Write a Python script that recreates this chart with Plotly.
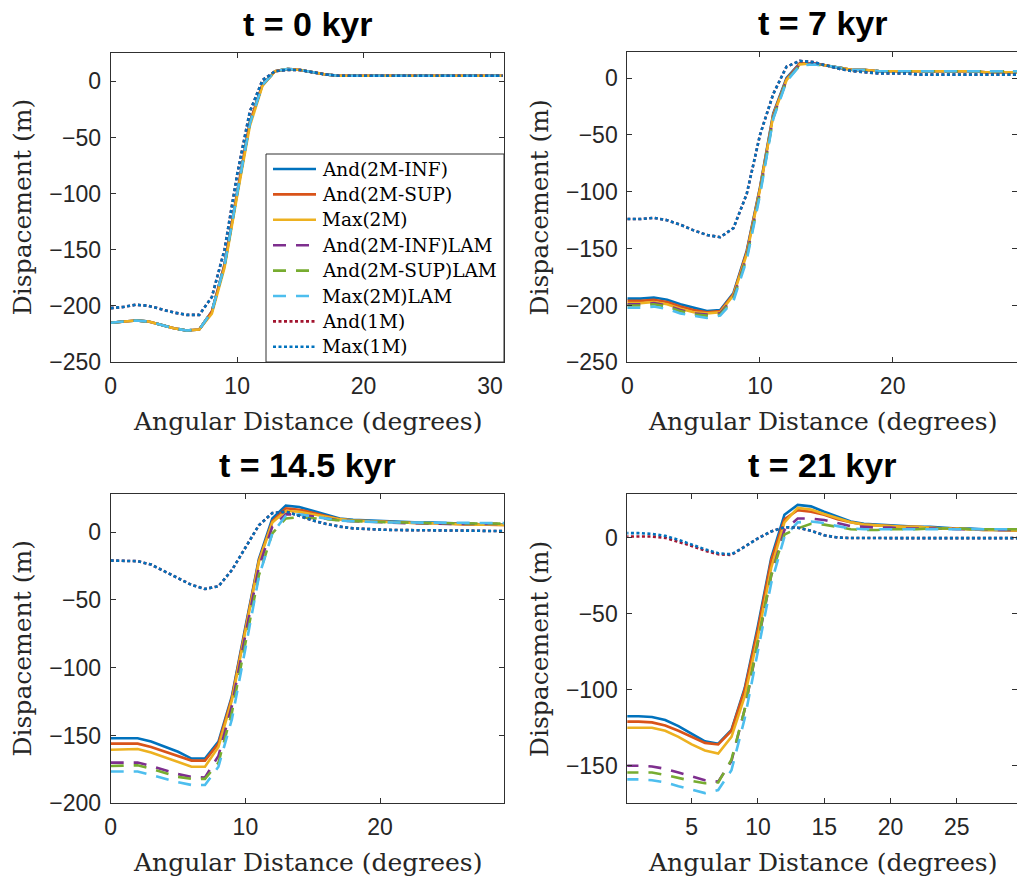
import plotly.graph_objects as go

# Angular distance from the ice-sheet centre (degrees), sampled every degree
angular_distance = list(range(0, 32))

series_names = [
    "And(2M-INF)", "And(2M-SUP)", "Max(2M)",
    "And(2M-INF)LAM", "And(2M-SUP)LAM", "Max(2M)LAM",
    "And(1M)", "Max(1M)",
]
panel_titles = ["t = 0 kyr", "t = 7 kyr", "t = 14.5 kyr", "t = 21 kyr"]

# ---- t = 0 kyr ----
t0_and2m_inf = [-215, -214, -213, -214, -217, -220, -222, -221, -205, -163, -99, -37, -3, 9, 11, 10, 8, 6, 5, 5, 5, 5, 5, 5, 5, 5, 5, 5, 5, 5, 5, 5]
t0_and2m_sup = [-215, -214, -213, -214, -217, -220, -222, -221, -205, -164, -100, -37, -3, 9, 11, 10, 8, 6, 5, 5, 5, 5, 5, 5, 5, 5, 5, 5, 5, 5, 5, 5]
t0_max2m = [-215, -214, -213, -214, -217, -220, -222, -221, -207, -166, -102, -40, -4, 9, 11, 10, 8, 6, 5, 5, 5, 5, 5, 5, 5, 5, 5, 5, 5, 5, 5, 5]
t0_and2m_inf_lam = [-215, -214, -213, -214, -217, -220, -222, -221, -205, -163, -99, -37, -3, 9, 11, 10, 8, 6, 5, 5, 5, 5, 5, 5, 5, 5, 5, 5, 5, 5, 5, 5]
t0_and2m_sup_lam = [-215, -214, -213, -214, -217, -220, -222, -221, -205, -164, -100, -37, -3, 9, 11, 10, 8, 6, 5, 5, 5, 5, 5, 5, 5, 5, 5, 5, 5, 5, 5, 5]
t0_max2m_lam = [-215, -214, -213, -214, -217, -220, -222, -221, -205, -164, -100, -38, -3, 9, 11, 10, 8, 6, 5, 5, 5, 5, 5, 5, 5, 5, 5, 5, 5, 5, 5, 5]
t0_and1m = [-202, -201, -199, -200, -203, -206, -208, -208, -192, -150, -83, -27, 1, 9, 10, 10, 8, 6, 5, 5, 5, 5, 5, 5, 5, 5, 5, 5, 5, 5, 5, 5]
t0_max1m = [-202, -201, -199, -200, -203, -206, -208, -208, -192, -150, -83, -27, 1, 9, 10, 10, 8, 6, 5, 5, 5, 5, 5, 5, 5, 5, 5, 5, 5, 5, 5, 5]

# ---- t = 7 kyr ----
t7_and2m_inf = [-194, -194, -193, -195, -199, -202, -205, -204, -189, -152, -96, -31, 0, 13, 13, 11, 9, 7, 7, 6, 6, 6, 6, 6, 6, 6, 6, 5, 5, 5, 5, 5]
t7_and2m_sup = [-196, -196, -195, -197, -201, -204, -206, -205, -190, -153, -97, -32, -1, 13, 13, 11, 9, 7, 7, 6, 6, 6, 6, 6, 6, 6, 6, 5, 5, 5, 5, 5]
t7_max2m = [-198, -198, -197, -199, -203, -206, -207, -206, -191, -155, -98, -33, -2, 12, 13, 11, 9, 7, 7, 6, 6, 6, 6, 6, 6, 6, 6, 5, 5, 5, 5, 5]
t7_and2m_inf_lam = [-199, -199, -198, -200, -204, -207, -208, -207, -193, -157, -100, -34, -2, 12, 13, 11, 9, 7, 7, 6, 6, 6, 6, 6, 6, 6, 6, 6, 6, 6, 6, 6]
t7_and2m_sup_lam = [-200, -200, -199, -201, -205, -208, -209, -208, -194, -158, -101, -35, -2, 11, 12, 11, 9, 7, 7, 6, 6, 6, 6, 6, 6, 6, 6, 6, 6, 6, 6, 6]
t7_max2m_lam = [-202, -202, -201, -203, -207, -209, -211, -209, -196, -160, -103, -36, -3, 11, 12, 11, 9, 7, 7, 6, 6, 6, 6, 6, 6, 6, 6, 6, 6, 6, 6, 6]
t7_and1m = [-124, -124, -123, -125, -129, -134, -138, -140, -132, -102, -50, -14, 10, 15, 14, 11, 8, 6, 5, 4, 4, 4, 3, 3, 3, 3, 3, 3, 3, 3, 3, 3]
t7_max1m = [-124, -124, -123, -125, -129, -134, -138, -140, -132, -102, -50, -14, 10, 15, 14, 11, 8, 6, 5, 4, 4, 4, 3, 3, 3, 3, 3, 3, 3, 3, 3, 3]

# ---- t = 14.5 kyr ----
t145_and2m_inf = [-152, -152, -152, -154.5, -158, -162, -167, -167, -154.5, -121, -70, -20, 10, 19.5, 18.5, 15.5, 12.5, 10, 9, 8.5, 8, 7.5, 7.5, 7, 7, 6.5, 6, 6, 5.5, 5.5, 5, 5]
t145_and2m_sup = [-156, -156, -156, -158.5, -162, -165.5, -168.5, -168.5, -156, -122, -71, -21, 8, 17.5, 16.5, 14, 11.5, 9.5, 8.5, 8, 7.5, 7, 7, 6.5, 6.5, 6, 6, 5.5, 5.5, 5, 5, 5]
t145_max2m = [-160.5, -160.5, -160, -162.5, -166, -170, -173, -173, -158.5, -124, -73, -22, 7, 15.5, 15, 13, 11, 9.5, 8.5, 8, 7.5, 7, 7, 6.5, 6.5, 6, 6, 5.5, 5.5, 5, 5, 5]
t145_and2m_inf_lam = [-170, -170, -170, -172.5, -175.5, -178.5, -180.5, -181, -165, -128, -76, -26, 4, 13, 13, 11.5, 10, 8.5, 8, 7.5, 7, 7, 6.5, 6.5, 6, 6, 6, 6, 6, 6, 6, 6]
t145_and2m_sup_lam = [-172.5, -172.5, -172, -174.5, -177.5, -180.5, -182, -182, -170, -133, -82, -32, -1, 10, 11, 10.5, 9.5, 8.5, 8, 7.5, 7, 7, 7, 6.5, 6.5, 6.5, 6.5, 6, 6, 6, 6, 6]
t145_max2m_lam = [-176.5, -176.5, -176.5, -179, -182, -184.5, -186.5, -186.5, -173, -138, -86, -33, -1, 12, 13, 11.5, 10, 8.5, 8, 7.5, 7, 7, 7, 7, 7, 6.5, 6.5, 6.5, 6.5, 6.5, 6.5, 6.5]
t145_and1m = [-21, -21, -21.5, -24, -29, -34, -39, -42, -40, -28, -11, 5, 14, 15, 12, 8.5, 6, 4, 2.7, 2, 1.8, 1.5, 1.5, 1.3, 1.2, 1, 1, 1, 0.8, 0.7, 0.7, 0.7]
t145_max1m = [-21, -21, -21.5, -24, -29, -34, -39, -42, -40, -28, -11, 5, 14, 15, 12, 8.5, 6, 4, 2.7, 2, 1.8, 1.5, 1.5, 1.3, 1.2, 1, 1, 1, 0.8, 0.7, 0.7, 0.7]

# ---- t = 21 kyr ----
t21_and2m_inf = [-117.5, -117.5, -118, -120, -124, -129, -134, -135.5, -126.5, -99, -58, -13.5, 15, 21.5, 20.5, 17, 13.5, 10.5, 9, 8.5, 8, 7.5, 7, 7, 6.5, 6, 6, 5.5, 5, 5, 4.5, 4.5]
t21_and2m_sup = [-121, -121, -121.5, -123.5, -127, -131, -135, -136, -127, -100, -60, -15, 12, 18, 17, 15, 12, 10, 8.5, 8, 7.5, 7, 7, 6.5, 6, 6, 5.5, 5, 5, 4.5, 4.5, 4.5]
t21_max2m = [-125, -125, -125, -127, -131, -136, -140, -142, -131, -104.5, -65, -20, 10, 19.5, 18.5, 15.5, 12.5, 10, 8.5, 8, 7.5, 7, 7, 6.5, 6, 6, 5.5, 5, 5, 4.5, 4.5, 4.5]
t21_and2m_inf_lam = [-150, -150, -150.5, -152, -154.5, -157, -159.5, -160.5, -147, -113, -68, -25, 5, 12.5, 12.5, 11.5, 9.5, 7.5, 7, 6.5, 6.5, 6, 6, 6, 6, 5.5, 5.5, 5.5, 5, 5, 5, 5]
t21_and2m_sup_lam = [-154.5, -154.5, -154.5, -156, -158, -160, -161.5, -161, -146, -113, -68, -25, 2, 6, 9, 8.5, 7, 5.5, 5, 5, 5.5, 5.5, 5.5, 6, 6, 6, 5.5, 5.5, 5.5, 5.5, 5.5, 5.5]
t21_max2m_lam = [-159, -159, -159.5, -161, -163.5, -166, -168, -166, -153, -119, -75, -30, 0.5, 10, 10.5, 9.5, 7.5, 6, 5.5, 5.5, 5.5, 5.5, 5.5, 5.5, 5.5, 5.5, 5.5, 5.5, 5.5, 5.5, 5.5, 5.5]
t21_and1m = [0.7, 0.7, 0.7, -0.2, -2.6, -5.5, -8.6, -11, -11.4, -6, -0.5, 4, 6.8, 6.5, 4.5, 1.5, 0, -0.3, -0.4, -0.4, -0.4, -0.4, -0.4, -0.4, -0.4, -0.4, -0.4, -0.4, -0.4, -0.4, -0.4, -0.4]
t21_max1m = [2.9, 2.9, 2.4, 1.1, -1.5, -4.8, -7.7, -10.3, -11, -6, -0.5, 4, 6.8, 6.5, 4.5, 1.5, 0, -0.3, -0.4, -0.4, -0.4, -0.4, -0.4, -0.4, -0.4, -0.4, -0.4, -0.4, -0.4, -0.4, -0.4, -0.4]

panels = [
    [t0_and2m_inf, t0_and2m_sup, t0_max2m, t0_and2m_inf_lam, t0_and2m_sup_lam, t0_max2m_lam, t0_and1m, t0_max1m],
    [t7_and2m_inf, t7_and2m_sup, t7_max2m, t7_and2m_inf_lam, t7_and2m_sup_lam, t7_max2m_lam, t7_and1m, t7_max1m],
    [t145_and2m_inf, t145_and2m_sup, t145_max2m, t145_and2m_inf_lam, t145_and2m_sup_lam, t145_max2m_lam, t145_and1m, t145_max1m],
    [t21_and2m_inf, t21_and2m_sup, t21_max2m, t21_and2m_inf_lam, t21_and2m_sup_lam, t21_max2m_lam, t21_and1m, t21_max1m],
]

# Axis limits and ticks of each panel
x_ranges = [[0, 31.1], [0, 29.37], [0, 29.2], [0.14, 29.55]]
y_ranges = [[-250, 25.2], [-250, 22.6], [-200, 27.9], [-174.7, 28.5]]
x_ticks = [[0, 10, 20, 30], [0, 10, 20], [0, 10, 20], [5, 10, 15, 20, 25]]
y_ticks = [[-250, -200, -150, -100, -50, 0], [-250, -200, -150, -100, -50, 0],
           [-200, -150, -100, -50, 0], [-150, -100, -50, 0]]

# Line styling (MATLAB default colour order)
colors = ["#0072BD", "#D95319", "#EDB120", "#7E2F8E", "#77AC30", "#4DBEEE", "#A2142F", "#0072BD"]
dashes = ["solid", "solid", "solid", "13px,10px", "13px,10px", "13px,10px", "3px,2.5px", "3px,2.5px"]

W, H = 1017, 879
x_domains = [[110.7 / W, 504 / W], [627.3 / W, 1.0], [110.7 / W, 504 / W], [627.3 / W, 1.0]]
y_domains = [[1 - 362 / H, 1 - 53 / H], [1 - 362.3 / H, 1 - 52.3 / H],
             [1 - 803.3 / H, 1 - 494.2 / H], [1 - 803.3 / H, 1 - 494.2 / H]]

AX_COLOR = "#303030"
TICK_FONT = dict(family="Liberation Sans, Arial, sans-serif", size=23, color="#262626")
LABEL_FONT = dict(family="DejaVu Serif, serif", size=25, color="#262626")
TITLE_FONT = dict(family="Liberation Sans, Arial, sans-serif", size=34, color="black")
LEGEND_FONT = dict(family="DejaVu Serif, serif", size=18.5, color="black")

fig = go.Figure()
layout = dict(
    width=W, height=H, margin=dict(l=0, r=0, t=0, b=0, autoexpand=False),
    paper_bgcolor="white", plot_bgcolor="white",
    showlegend=False,
)
annotations = []
shapes = []

for p in range(4):
    suffix = "" if p == 0 else str(p + 1)
    xa, ya = "x" + suffix, "y" + suffix
    for s, values in enumerate(panels[p]):
        fig.add_trace(go.Scatter(
            x=angular_distance, y=values, mode="lines", name=series_names[s],
            line=dict(color=colors[s], width=2.6, dash=dashes[s]),
            xaxis=xa, yaxis=ya, cliponaxis=True,
        ))
    common = dict(
        showline=True, linecolor=AX_COLOR, linewidth=1, mirror="ticks",
        ticks="inside", ticklen=5, tickwidth=1, tickcolor=AX_COLOR,
        showgrid=False, zeroline=False, tickfont=TICK_FONT, automargin=False,
    )
    layout["xaxis" + suffix] = dict(
        domain=x_domains[p], range=x_ranges[p], tickvals=x_ticks[p],
        anchor=ya, ticklabelstandoff=3, **common,
    )
    layout["yaxis" + suffix] = dict(
        domain=y_domains[p], range=y_ranges[p], tickvals=y_ticks[p],
        anchor=xa, ticklabelstandoff=4, **common,
    )
    # panel title
    annotations.append(dict(
        text="<b>" + panel_titles[p] + "</b>", xref=xa + " domain", yref=ya + " domain",
        x=0.5, y=1, yshift=29, showarrow=False, font=TITLE_FONT,
        xanchor="center", yanchor="middle",
    ))
    # axis labels
    annotations.append(dict(
        text="Angular Distance (degrees)", xref=xa + " domain", yref=ya + " domain",
        x=0.5, y=0, yshift=-59, showarrow=False, font=LABEL_FONT,
        xanchor="center", yanchor="middle",
    ))
    annotations.append(dict(
        text="Dispacement (m)", xref=xa + " domain", yref=ya + " domain",
        x=0, y=0.5, xshift=-88, showarrow=False, font=LABEL_FONT, textangle=-90,
        xanchor="center", yanchor="middle",
    ))

# Legend box in the lower-right corner of the first panel
LEG_LEFT, LEG_RIGHT, LEG_TOP, LEG_BOTTOM = 266, 504, 154, 362
ROW_STEP = 25.4
FIRST_ROW = 169


def px(x, y):
    return x / W, 1 - y / H


x0, y0 = px(LEG_LEFT, LEG_BOTTOM)
x1, y1 = px(LEG_RIGHT, LEG_TOP)
shapes.append(dict(type="rect", xref="paper", yref="paper", x0=x0, y0=y0, x1=x1, y1=y1,
                   line=dict(color=AX_COLOR, width=1), fillcolor="white", layer="above"))
for s, name in enumerate(series_names):
    row_y = FIRST_ROW + s * ROW_STEP
    lx0, ly = px(273, row_y)
    lx1, _ = px(316, row_y)
    shapes.append(dict(type="line", xref="paper", yref="paper", x0=lx0, x1=lx1, y0=ly, y1=ly,
                       line=dict(color=colors[s], width=2.6, dash=dashes[s]), layer="above"))
    tx, _ = px(320, row_y)
    annotations.append(dict(
        text=name, xref="paper", yref="paper", x=tx, y=ly, showarrow=False,
        xanchor="left", yanchor="middle", font=LEGEND_FONT,
    ))

layout["annotations"] = annotations
layout["shapes"] = shapes
fig.update_layout(**layout)
fig.write_html("out.html")
